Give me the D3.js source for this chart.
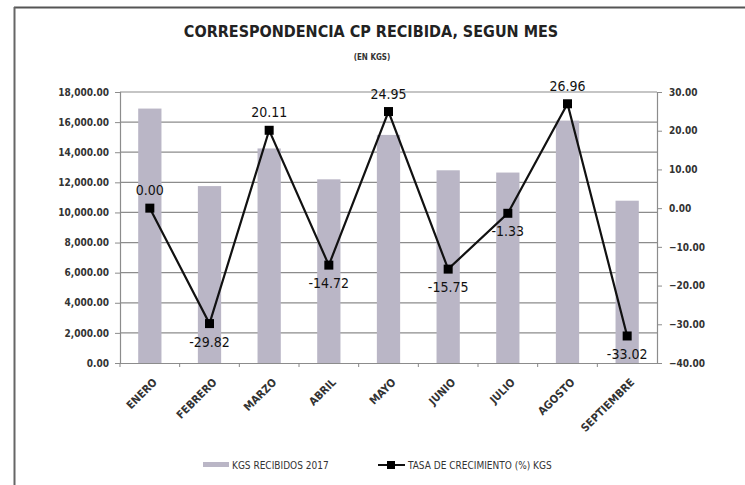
<!DOCTYPE html>
<html>
<head>
<meta charset="utf-8">
<script src="https://cdn.jsdelivr.net/npm/d3@7"></script>
<style>
  body { margin: 0; background: #fff; }
  svg text { font-family: "Liberation Sans Narrow", "DejaVu Sans Condensed", "Liberation Sans", sans-serif; }
</style>
</head>
<body>
<div id="chart"></div>
<script>
// data
const months = ['ENERO', 'FEBRERO', 'MARZO', 'ABRIL', 'MAYO', 'JUNIO', 'JULIO', 'AGOSTO', 'SEPTIEMBRE'];
const kgs = [16900, 11750, 14250, 12200, 15150, 12800, 12650, 16100, 10780];
const growth = [0.00, -29.82, 20.11, -14.72, 24.95, -15.75, -1.33, 26.96, -33.02];
const leftTicks = [0, 2000, 4000, 6000, 8000, 10000, 12000, 14000, 16000, 18000];
const rightTicks = [-40, -30, -20, -10, 0, 10, 20, 30];

const width = 745;
const height = 485;
const plot = {left: 120, right: 657, top: 92, bottom: 363};

const svg = d3.select('#chart')
  .append('svg')
    .attr('width', width)
    .attr('height', height);

// frame of the scanned chart
svg.append('line')
  .attr('x1', 14).attr('x2', 745).attr('y1', 7.5).attr('y2', 7.5)
  .attr('stroke', '#555').attr('stroke-width', 2);
svg.append('line')
  .attr('x1', 14.5).attr('x2', 14.5).attr('y1', 7).attr('y2', 485)
  .attr('stroke', '#666').attr('stroke-width', 2);

// titles
svg.append('text')
  .attr('x', 371).attr('y', 37)
  .attr('text-anchor', 'middle')
  .attr('font-size', 16).attr('font-weight', 'bold')
  .attr('fill', '#222')
  .text('CORRESPONDENCIA CP RECIBIDA, SEGUN MES');
svg.append('text')
  .attr('x', 372).attr('y', 60)
  .attr('text-anchor', 'middle')
  .attr('font-size', 8).attr('font-weight', 'bold')
  .attr('fill', '#333')
  .text('(EN KGS)');

const xScale = d3.scaleBand()
  .domain(months)
  .range([plot.left, plot.right]);

const yLeft = d3.scaleLinear()
  .domain([0, 18000])
  .range([plot.bottom, plot.top]);

const yRight = d3.scaleLinear()
  .domain([-40, 30])
  .range([plot.bottom, plot.top]);

// gridlines
svg.append('g')
  .selectAll('line')
  .data(leftTicks.filter(d => d > 0))
  .enter()
    .append('line')
      .attr('x1', plot.left).attr('x2', plot.right)
      .attr('y1', d => yLeft(d)).attr('y2', d => yLeft(d))
      .attr('stroke', '#8c8c8c').attr('stroke-width', 1.2);

// bars
const barW = xScale.bandwidth() * 0.39;
svg.append('g')
  .selectAll('rect')
  .data(months)
  .enter()
    .append('rect')
      .attr('x', d => xScale(d) + (xScale.bandwidth() - barW) / 2)
      .attr('y', (d, i) => yLeft(kgs[i]))
      .attr('width', barW)
      .attr('height', (d, i) => plot.bottom - yLeft(kgs[i]))
      .attr('fill', '#bab6c6');

// left axis
const fmt = d3.format(',.2f');
const leftAxis = svg.append('g')
  .attr('transform', `translate(${plot.left},0)`)
  .call(d3.axisLeft(yLeft).tickValues(leftTicks).tickFormat(fmt).tickSize(5).tickPadding(6));
leftAxis.selectAll('text').attr('font-size', 10).attr('font-weight', 'bold').attr('fill', '#333');

// right axis
const rightAxis = svg.append('g')
  .attr('transform', `translate(${plot.right},0)`)
  .call(d3.axisRight(yRight).tickValues(rightTicks).tickFormat(d3.format('.2f')).tickSize(5).tickPadding(7));
rightAxis.selectAll('text').attr('font-size', 10).attr('font-weight', 'bold').attr('fill', '#333');

// x axis
const xAxis = svg.append('g')
  .attr('transform', `translate(0,${plot.bottom})`)
  .call(d3.axisBottom(xScale).tickSize(0).tickPadding(8));
xAxis.selectAll('text')
  .attr('font-size', 11).attr('font-weight', 'bold').attr('fill', '#333')
  .attr('text-anchor', 'end')
  .attr('dy', '0.3em')
  .attr('transform', 'translate(0,12) rotate(-45)');
// category boundary ticks
svg.append('g')
  .selectAll('line')
  .data(months)
  .enter()
    .append('line')
      .attr('x1', d => xScale(d)).attr('x2', d => xScale(d))
      .attr('y1', plot.bottom).attr('y2', plot.bottom + 4)
      .attr('stroke', '#888');

[leftAxis, rightAxis, xAxis].forEach(a => {
  a.select('.domain').attr('stroke', '#8c8c8c').attr('stroke-width', 1.2);
  a.selectAll('.tick line').attr('stroke', '#8c8c8c');
});

// growth line
const line = d3.line()
  .x((d, i) => xScale(months[i]) + xScale.bandwidth() / 2)
  .y(d => yRight(d));

svg.append('path')
  .datum(growth)
  .attr('d', line)
  .attr('fill', 'none')
  .attr('stroke', '#111')
  .attr('stroke-width', 2.2);

svg.append('g')
  .selectAll('rect')
  .data(growth)
  .enter()
    .append('rect')
      .attr('x', (d, i) => xScale(months[i]) + xScale.bandwidth() / 2 - 4.5)
      .attr('y', d => yRight(d) - 4.5)
      .attr('width', 9).attr('height', 9)
      .attr('fill', '#000');

// data labels
svg.append('g')
  .selectAll('text')
  .data(growth)
  .enter()
    .append('text')
      .attr('x', (d, i) => xScale(months[i]) + xScale.bandwidth() / 2)
      .attr('y', d => d >= 0 ? yRight(d) - 13 : yRight(d) + 23)
      .attr('text-anchor', 'middle')
      .attr('font-size', 14)
      .attr('fill', '#111')
      .text(d => d.toFixed(2));

// legend
const legend = svg.append('g').attr('transform', 'translate(0,465)');
legend.append('rect')
  .attr('x', 203).attr('y', -3).attr('width', 26).attr('height', 5)
  .attr('fill', '#bab6c6');
legend.append('text')
  .attr('x', 232).attr('y', 4)
  .attr('font-size', 10).attr('fill', '#333')
  .text('KGS RECIBIDOS  2017');
legend.append('line')
  .attr('x1', 378).attr('x2', 405).attr('y1', 0).attr('y2', 0)
  .attr('stroke', '#111').attr('stroke-width', 2);
legend.append('rect')
  .attr('x', 387).attr('y', -4).attr('width', 8).attr('height', 8)
  .attr('fill', '#000');
legend.append('text')
  .attr('x', 408).attr('y', 4)
  .attr('font-size', 10).attr('fill', '#333')
  .text('TASA DE CRECIMIENTO  (%) KGS');
</script>
</body>
</html>
